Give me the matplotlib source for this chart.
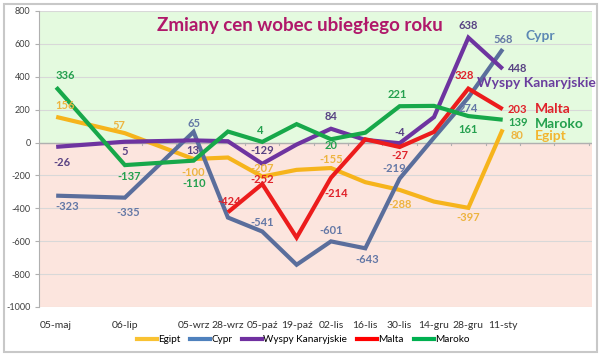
import numpy as np
import matplotlib
matplotlib.use("Agg")
import matplotlib.pyplot as plt
from matplotlib.patches import Rectangle

plt.rcParams['font.family'] = ['Lato', 'DejaVu Sans']

# ---- data ----
categories = ["05-maj", "06-lip", "05-wrz", "28-wrz", "05-paź", "19-paź",
              "02-lis", "16-lis", "30-lis", "14-gru", "28-gru", "11-sty"]
# category slot of each date (the reference axis has two empty slots)
slots = [0, 2, 4, 5, 6, 7, 8, 9, 10, 11, 12, 13]

egipt = [156, 57, -100, -91, -207, -166, -155, -241, -288, -359, -397, 80]
cypr = [-323, -335, 65, -456, -541, -743, -601, -643, -219, 30, 274, 568]
wyspy = [-26, 5, 13, 8, -129, -12, 84, 16, -4, 155, 638, 448]
malta = [np.nan, np.nan, np.nan, -424, -252, -578, -214, 20, -27, 65, 328, 203]
maroko = [336, -137, -110, 67, 4, 112, 20, 60, 221, 223, 161, 139]

series_names = ["Egipt", "Cypr", "Wyspy Kanaryjskie", "Malta", "Maroko"]
series_values = [egipt, cypr, wyspy, malta, maroko]

title = "Zmiany cen wobec ubiegłego roku"
yticks = [800, 600, 400, 200, 0, -200, -400, -600, -800, -1000]

# ---- style ----
line_colors = ["#F6B41C", "#5A6E9C", "#6E34A0", "#EC1C1C", "#17A84A"]
label_colors = ["#EDB440", "#6478A6", "#584283", "#E0222A", "#24A04E"]
name_colors = ["#F2B630", "#5C88B4", "#6A3E9E", "#E0222A", "#24A04E"]
legend_colors = ["#F9C232", "#4F81BD", "#7030A0", "#FF0000", "#00B050"]

# data label offsets in pixels (dx, dy up) per point index
label_offsets = [
    {0: (9, 11), 1: (-6, 8), 2: (0, -13), 4: (0, 8), 6: (0, 9), 8: (0, -15), 10: (0, -10), 11: (14, -6)},
    {0: (11, -11), 1: (3, -15), 2: (0, 8), 4: (0, 9), 6: (0, 11), 7: (2, -11), 8: (-5, 10), 10: (0, -11), 11: (0, 10)},
    {0: (6, -16), 1: (0, -10), 2: (-1, -10), 4: (0, 13), 6: (0, 12), 8: (0, 11), 10: (0, 12), 11: (15, 0)},
    {3: (1, 11), 4: (0, 4), 6: (5, -16), 8: (0, -9), 10: (-4, 13), 11: (15, 0)},
    {0: (9, 12), 1: (4, -11), 2: (1, -23), 4: (-2, 11), 6: (0, -6), 8: (-2, 12), 10: (0, -13), 11: (15, -3)},
]
# series name labels (figure pixel positions, left edge / vertical centre)
name_pos = [(535, 136), (525, 36), (477, 83), (535, 109), (535, 124)]

W, H = 600, 357
fig = plt.figure(figsize=(W / 100, H / 100), dpi=100)
fig.patch.set_facecolor("white")


def fx(x):
    return x / W


def fy(y):
    return 1 - y / H


ax = fig.add_axes([fx(39), fy(307), fx(592) - fx(39), fy(11) - fy(307)])
ax.set_xlim(-0.5, 15.6)
ax.set_ylim(-1000, 800)
ax.axhspan(0, 800, color="#E4FADF", zorder=0, lw=0)
ax.axhspan(-1000, 0, color="#FCE5DE", zorder=0, lw=0)
for yv in yticks:
    ax.axhline(yv, color="#D8D8D8", lw=0.8, zorder=1)
ax.axhline(0, color="#B0B0B0", lw=1.0, zorder=1)
for k in range(0, 16):
    ax.plot([k + 0.5, k + 0.5], [0, -16], color="#B0B0B0", lw=0.8, zorder=1)

for name, vals, lc in zip(series_names, series_values, line_colors):
    ax.plot(slots, vals, color=lc, lw=3.0, solid_joinstyle="miter",
            solid_capstyle="butt", zorder=3, label=name)

for vals, offs, c in zip(series_values, label_offsets, label_colors):
    for i, (dx, dy) in offs.items():
        ax.annotate(f"{int(vals[i])}", xy=(slots[i], vals[i]), xytext=(dx, dy),
                    textcoords="offset pixels", ha="center", va="center",
                    fontsize=8, fontweight="bold", color=c, zorder=5)

for name, (px, py), c in zip(series_names, name_pos, name_colors):
    fig.text(fx(px), fy(py), name, ha="left", va="center", fontsize=10,
             fontweight="bold", color=c, zorder=6)

ax.text(0.5, fy(26), title, transform=fig.transFigure, ha="center", va="center",
        fontsize=13.5, fontweight="bold", color="#B0186A")

ax.set_yticks(yticks)
ax.set_yticklabels([str(v) for v in yticks], fontsize=6.5, color="#404040")
ax.tick_params(axis="y", length=3, color="#B0B0B0", pad=3)
ax.set_xticks(slots)
ax.set_xticklabels(categories, fontsize=7.5, color="#303030")
ax.tick_params(axis="x", length=0, pad=10)
for s in ["top", "right", "bottom"]:
    ax.spines[s].set_visible(False)
ax.spines["left"].set_color("#B0B0B0")

handles = [plt.Line2D([], [], color=c, lw=3) for c in legend_colors]
fig.legend(handles, series_names, loc="center", bbox_to_anchor=(fx(303), fy(340)),
           ncol=5, frameon=False, fontsize=7.2, handlelength=2.0, handletextpad=0.1,
           columnspacing=1.0)

fig.add_artist(Rectangle((fx(4), fy(352)), fx(597) - fx(4), fy(4) - fy(352),
                         transform=fig.transFigure, fill=False, edgecolor="#C8C8C8",
                         lw=1.5))

fig.savefig("out.png", dpi=100)
